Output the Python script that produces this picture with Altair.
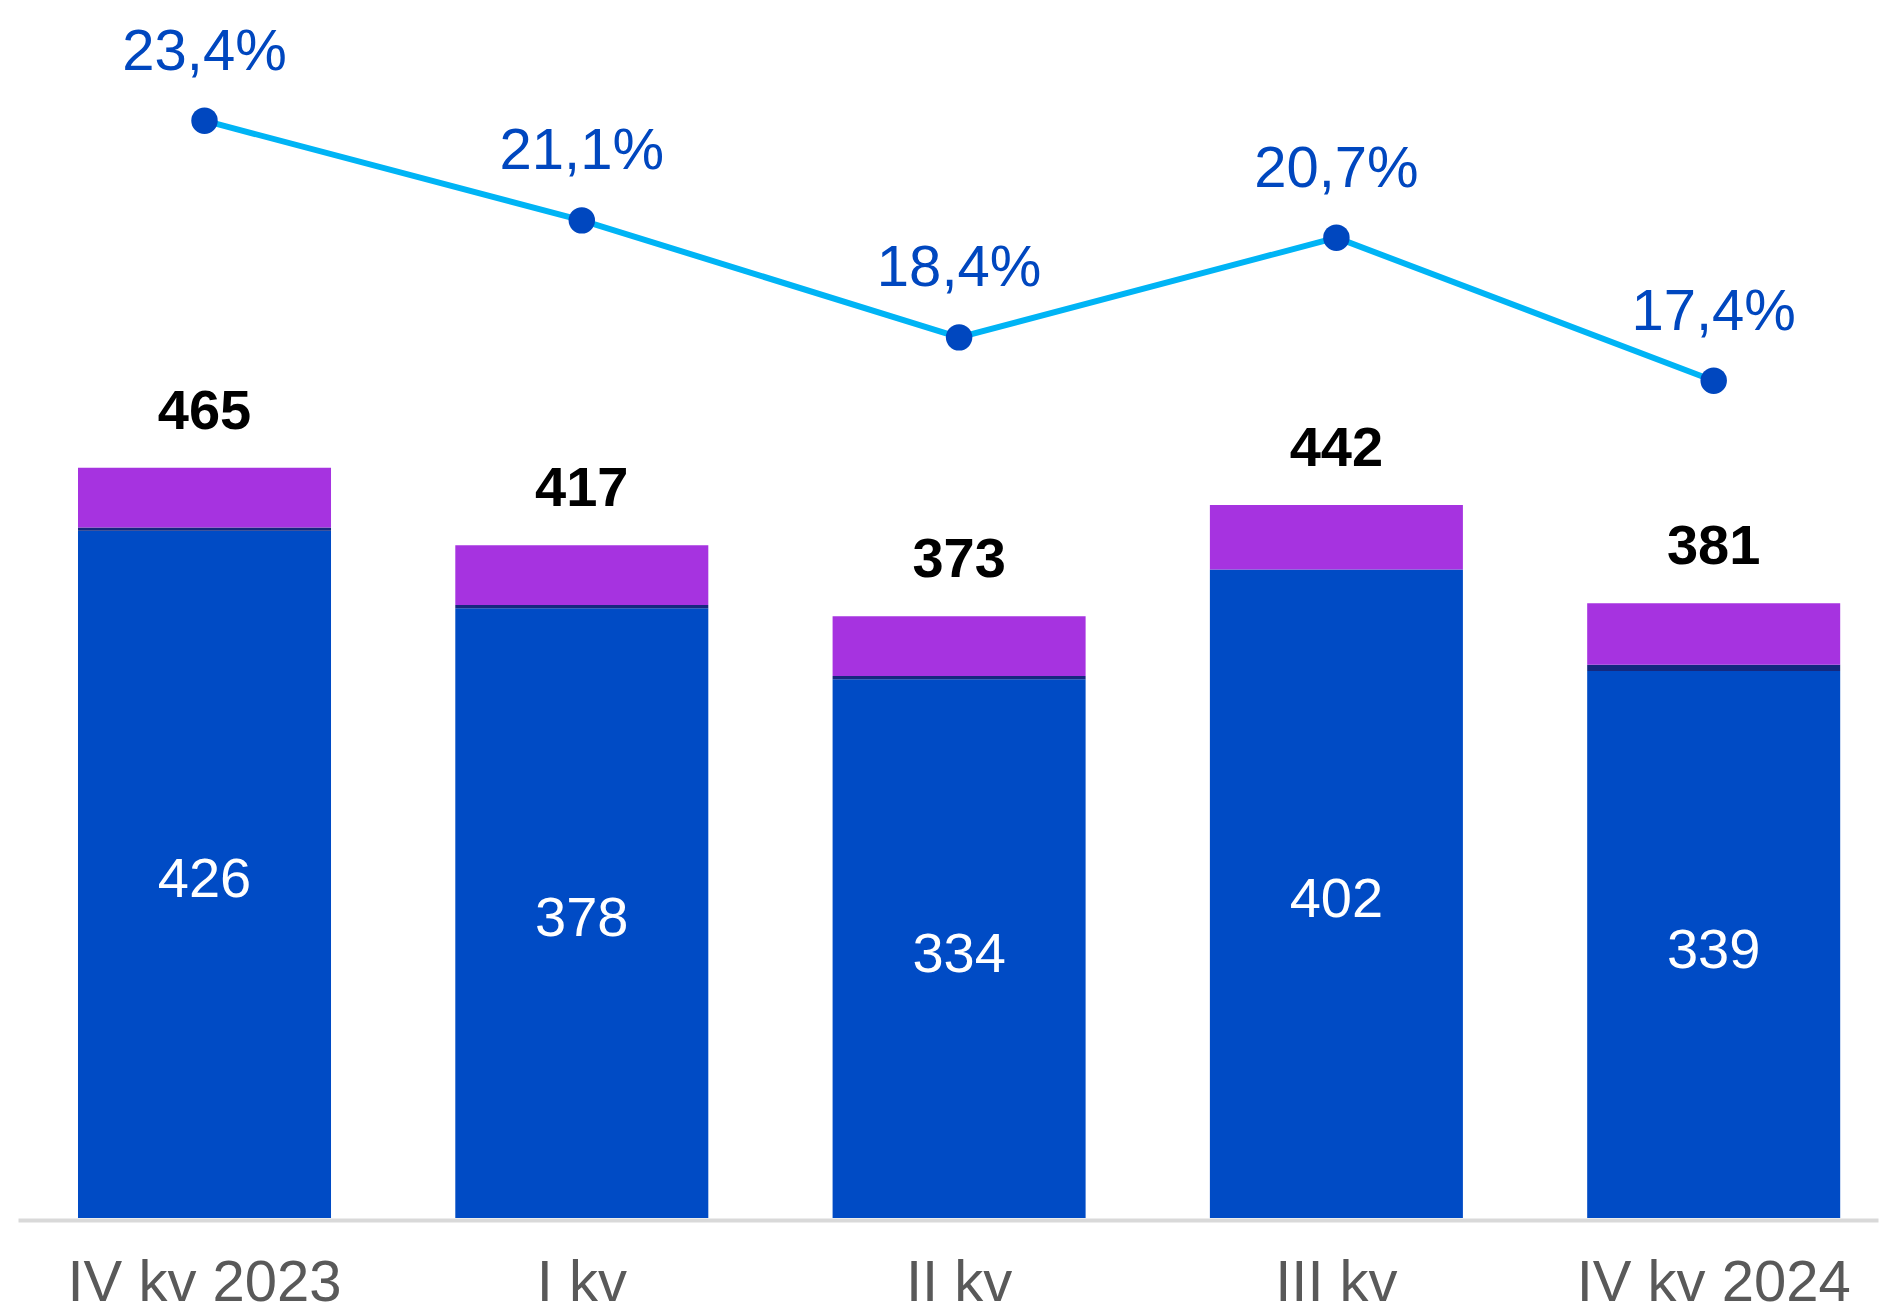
import altair as alt
import pandas as pd

quarters = ["IV kv 2023", "I kv", "II kv", "III kv", "IV kv 2024"]
main_vals = [426, 378, 334, 402, 339]
small_vals = [2, 2, 2, 0, 4]
other_vals = [37, 37, 37, 40, 38]
totals = [465, 417, 373, 442, 381]
pct_vals = [23.4, 21.1, 18.4, 20.7, 17.4]
pct_labels = ["23,4%", "21,1%", "18,4%", "20,7%", "17,4%"]

segments = ["main", "small", "other"]
seg_colors = ["#004BC5", "#15287F", "#A633E0"]

rows = []
for i, q in enumerate(quarters):
    for k, (seg, vals) in enumerate(zip(segments, [main_vals, small_vals, other_vals])):
        rows.append({"q": q, "seg": seg, "val": vals[i], "ord": k})
df_stack = pd.DataFrame(rows)

df = pd.DataFrame({
    "q": quarters,
    "main": main_vals,
    "mid": [v / 2 for v in main_vals],
    "total": totals,
    "pct": pct_vals,
    "pct_label": pct_labels,
})

FONT = "Liberation Sans"
W, H = 1860, 1210

x_enc = alt.X(
    "q:N",
    sort=quarters,
    title=None,
    scale=alt.Scale(paddingInner=0.3294, paddingOuter=0.1296, align=0.6135),
    axis=alt.Axis(
        labelAngle=0,
        labelFontSize=58,
        labelFont=FONT,
        labelColor="#595959",
        labelPadding=34,
        labelLimit=0,
        labelOverlap=False,
        ticks=False,
        tickSize=0,
        domainColor="#D9D9D9",
        domainWidth=4,
        offset=2,
        grid=False,
    ),
)

bar_scale = alt.Scale(domain=[0, 750], nice=False, zero=True)
pct_scale = alt.Scale(domain=[-1.92, 26.0], nice=False, zero=False)

bars = alt.Chart(df_stack).mark_bar().encode(
    x=x_enc,
    y=alt.Y("val:Q", stack="zero", scale=bar_scale, axis=None),
    color=alt.Color("seg:N", scale=alt.Scale(domain=segments, range=seg_colors), legend=None),
    order=alt.Order("ord:Q", sort="ascending"),
)

total_text = alt.Chart(df).mark_text(
    font=FONT, fontSize=56, fontWeight="bold", color="#000000", baseline="middle", dy=-56
).encode(
    x=alt.X("q:N", sort=quarters),
    y=alt.Y("total:Q", scale=bar_scale, axis=None),
    text=alt.Text("total:Q"),
)

inner_text = alt.Chart(df).mark_text(
    font=FONT, fontSize=56, color="#FFFFFF", baseline="middle", dy=6
).encode(
    x=alt.X("q:N", sort=quarters),
    y=alt.Y("mid:Q", scale=bar_scale, axis=None),
    text=alt.Text("main:Q"),
)

line = alt.Chart(df).mark_line(color="#00B4F5", strokeWidth=6).encode(
    x=alt.X("q:N", sort=quarters),
    y=alt.Y("pct:Q", scale=pct_scale, axis=None),
)

points = alt.Chart(df).mark_point(filled=True, color="#0047BF", size=700, opacity=1).encode(
    x=alt.X("q:N", sort=quarters),
    y=alt.Y("pct:Q", scale=pct_scale, axis=None),
)

pct_text = alt.Chart(df).mark_text(
    font=FONT, fontSize=58, color="#0047BF", baseline="middle", dy=-68
).encode(
    x=alt.X("q:N", sort=quarters),
    y=alt.Y("pct:Q", scale=pct_scale, axis=None),
    text=alt.Text("pct_label:N"),
)

chart = alt.layer(
    bars, total_text, inner_text, line, points, pct_text
).resolve_scale(y="independent").properties(
    width=W,
    height=H,
    autosize=alt.AutoSizeParams(type="none"),
    padding={"left": 10, "top": 0, "right": 5, "bottom": 84},
).configure(background="#FFFFFF").configure_view(stroke=None, strokeWidth=0)

chart.save("out.html", embed_options={"renderer": "svg", "actions": False})
